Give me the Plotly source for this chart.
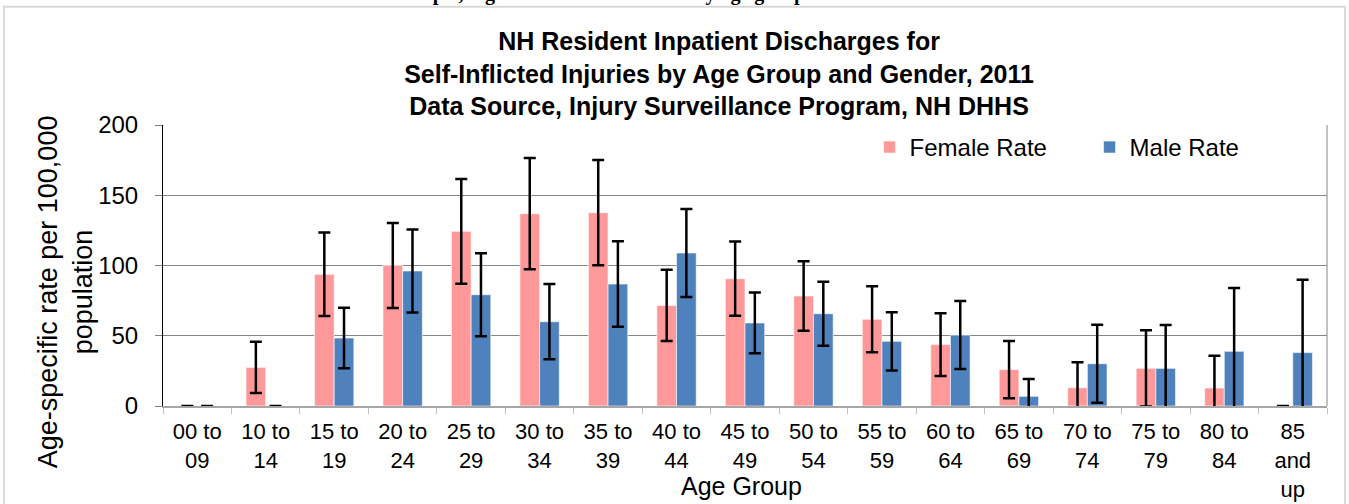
import plotly.graph_objects as go

categories = ["00 to 09", "10 to 14", "15 to 19", "20 to 24", "25 to 29", "30 to 34",
              "35 to 39", "40 to 44", "45 to 49", "50 to 54", "55 to 59", "60 to 64",
              "65 to 69", "70 to 74", "75 to 79", "80 to 84", "85 and up"]
tick_labels = ["00 to<br>09", "10 to<br>14", "15 to<br>19", "20 to<br>24", "25 to<br>29",
               "30 to<br>34", "35 to<br>39", "40 to<br>44", "45 to<br>49", "50 to<br>54",
               "55 to<br>59", "60 to<br>64", "65 to<br>69", "70 to<br>74", "75 to<br>79",
               "80 to<br>84", "85<br>and<br>up"]

female_rate = [0, 27.5, 93.7, 100.0, 124.3, 136.9, 137.6, 71.6, 90.6, 78.3, 61.7, 43.7,
               25.9, 13.0, 26.8, 12.8, 0]
female_ci = [0, 18.3, 29.7, 30.2, 37.3, 39.6, 37.5, 25.4, 26.4, 24.7, 23.5, 22.3,
             20.4, 18.1, 27.1, 23.0, 0]
male_rate = [0, 0, 48.4, 96.1, 79.2, 60.0, 86.8, 108.9, 59.1, 65.7, 46.0, 50.5,
             6.9, 30.1, 26.8, 38.9, 38.0]
male_ci = [0, 0, 21.6, 29.6, 29.5, 26.8, 30.4, 31.3, 21.6, 22.8, 20.7, 24.2,
           12.3, 27.8, 30.9, 45.1, 51.9]
y_ticks = [0, 50, 100, 150, 200]

FONT = "Arial, 'Liberation Sans', sans-serif"

fig = go.Figure()
fig.add_trace(go.Bar(
    name="Female Rate", x=categories, y=female_rate,
    marker=dict(color="#FF9999", line=dict(color="rgba(255,255,255,0.6)", width=1)),
    error_y=dict(type="data", array=female_ci, visible=True, color="black",
                 thickness=2.5, width=6),
))
fig.add_trace(go.Bar(
    name="Male Rate", x=categories, y=male_rate,
    marker=dict(color="#4F81BD", line=dict(color="rgba(255,255,255,0.6)", width=1)),
    error_y=dict(type="data", array=male_ci, visible=True, color="black",
                 thickness=2.5, width=6),
))

fig.update_layout(
    width=1349, height=504,
    margin=dict(l=163, r=22, t=125, b=98, autoexpand=False),
    paper_bgcolor="white", plot_bgcolor="white",
    barmode="group", bargap=0.425, bargroupgap=0,
    font=dict(family=FONT, color="black", size=22),
    title=dict(
        text="<b>NH Resident Inpatient Discharges for<br>Self-Inflicted Injuries by Age Group and Gender, 2011<br>Data Source, Injury Surveillance Program, NH DHHS</b>",
        font=dict(family=FONT, size=25, color="black"),
        x=0.4777, xref="paper", xanchor="center",
        y=1 - 50 / 504, yref="container", yanchor="middle",
    ),
    legend=dict(
        orientation="h", x=0.607, y=0.92, xanchor="left", yanchor="middle",
        font=dict(family=FONT, size=24, color="black"),
        bgcolor="rgba(0,0,0,0)", entrywidth=175, entrywidthmode="pixels",
    ),
    showlegend=True,
)

fig.update_xaxes(
    type="category", tickvals=categories, ticktext=tick_labels,
    showline=True, linecolor="#a6a6a6", linewidth=2,
    ticks="outside", tickson="boundaries", ticklen=6, tickcolor="#c0c0c0", tickwidth=1,
    tickfont=dict(family=FONT, size=22, color="black"),
    showgrid=False, ticklabelstandoff=5,
)
fig.update_yaxes(
    range=[0, 200], tickvals=y_ticks,
    showline=True, linecolor="black", linewidth=1,
    ticks="outside", ticklen=7, tickcolor="#808080",
    showgrid=True, gridcolor="#868686", gridwidth=1, zeroline=False,
    tickfont=dict(family=FONT, size=24, color="black"),
    ticklabelstandoff=12,
)

# axis titles as annotations
fig.add_annotation(
    text="Age-specific rate per 100,000<br>population", textangle=-90,
    xref="paper", yref="paper", x=(65 - 163) / 1164, y=1 - (291 - 124.7) / 281,
    xanchor="center", yanchor="middle", showarrow=False,
    font=dict(family=FONT, size=27, color="black"),
)
fig.add_annotation(
    text="Age Group", xref="paper", yref="paper", x=(741 - 163) / 1164,
    y=-(486 - 405.7) / 281, xanchor="center", yanchor="middle", showarrow=False,
    font=dict(family=FONT, size=25, color="black"),
)
# clipped document text above the chart
fig.add_annotation(
    text="<b>attempts, higher female rates for many age groups</b>",
    xref="paper", yref="paper", x=(598 - 163) / 1164, y=(405.7 - 7) / 281,
    xanchor="center", yanchor="bottom", showarrow=False,
    font=dict(family="'Liberation Serif', 'Times New Roman', serif", size=20, color="black"),
)

# right border of plot area and outer chart frame
fig.add_shape(type="line", xref="paper", yref="paper", x0=1, x1=1, y0=0, y1=1,
              line=dict(color="#868686", width=1))
fig.add_shape(type="rect", xref="paper", yref="paper",
              x0=(4 - 163) / 1164, x1=(1345 - 163) / 1164,
              y0=-(520 - 405.7) / 281, y1=(405.7 - 6.5) / 281,
              line=dict(color="#d9d9d9", width=2), layer="below")

fig.write_html("out.html", config={"displayModeBar": False},
               post_script="document.body.style.margin='0';document.body.style.overflow='hidden';")
